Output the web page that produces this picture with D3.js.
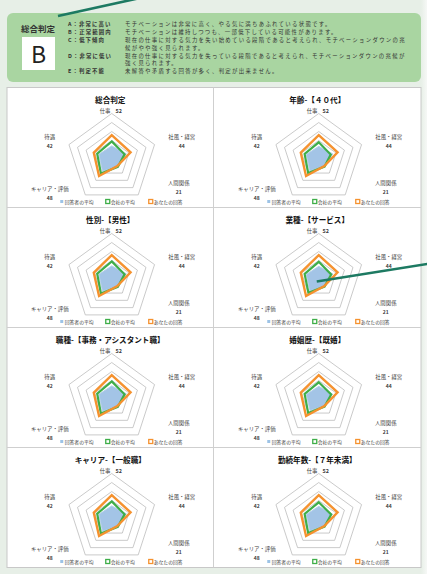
<!DOCTYPE html>
<html><head><meta charset="utf-8">
<script src="https://cdn.jsdelivr.net/npm/d3@7"></script>
<style>
html,body{margin:0;padding:0;background:#e7efe7;}
svg{display:block;}
text{font-family:"Noto Sans CJK JP","Noto Sans",sans-serif;}
</style></head>
<body>
<svg id="chart" width="427" height="574"></svg>
<script>
// ---------- data ----------
const overallGrade = "B";
const gradeCodes = ["A：非常に高い","B：正常範囲内","C：低下傾向","D：非常に低い","E：判定不能"];
const gradeDescriptions = [
  ["モチベーションは非常に高く、やる気に満ちあふれている状態です。"],
  ["モチベーションは維持しつつも、一部低下している可能性があります。"],
  ["現在の仕事に対する気力を失い始めている段階であると考えられ、モチベーションダウンの兆","候がやや強く見られます。"],
  ["現在の仕事に対する気力を失っている段階であると考えられ、モチベーションダウンの兆候が","強く見られます。"],
  ["未解答や矛盾する回答が多く、判定が出来ません。"]
];
const categories = ["仕事","社風・経営","人間関係","キャリア・評価","待遇"];
const categoryScoreLabels = ["52","44","21","48","42"];
const chartTitles = ["総合判定","年齢-【４０代】","性別-【男性】","業種-【サービス】","職種-【事務・アシスタント職】","婚姻歴-【既婚】","キャリア-【一般職】","勤続年数-【７年未満】"];
const seriesNames = ["回答者の平均","会社の平均","あなたの回答"];
const yourScores = [52,44,21,48,42];
const companyAvg = [
  [38,30,23,41,34],[36,28,22,40,33],[38,30,23,41,34],[37,29,22,39,33],
  [38,30,23,41,34],[36,29,22,40,33],[38,30,23,41,34],[36,29,22,40,33]
];
const respondentAvg = [
  [28,34,22,35,30],[27,33,21,34,29],[28,34,22,35,30],[27,33,22,34,29],
  [28,34,22,35,30],[27,32,21,33,29],[28,34,22,35,30],[27,32,21,34,29]
];
const ringTicks = [20,40,60,80,100];

// ---------- drawing ----------
const svg = d3.select("#chart");
const W = 427, H = 574;

const defs = svg.append("defs");
const g1 = defs.append("linearGradient").attr("id","glow").attr("x1","0").attr("x2","1");
g1.append("stop").attr("offset","0").attr("stop-color","#e7efe7");
g1.append("stop").attr("offset","1").attr("stop-color","#f6f8f6");
svg.append("rect").attr("width",W).attr("height",H).attr("fill","#e7efe7");
svg.append("rect").attr("x",421).attr("width",6).attr("height",H).attr("fill","url(#glow)");

// top grade box
svg.append("rect").attr("x",7).attr("y",13).attr("width",414).attr("height",69)
  .attr("rx",6).attr("fill","#a9d5a1");
svg.append("text").attr("x",38).attr("y",31.5).attr("text-anchor","middle")
  .attr("font-size",8.5).attr("font-weight","bold").attr("fill","#333").text("総合判定");
svg.append("rect").attr("x",22).attr("y",37).attr("width",33).attr("height",33).attr("fill","#fff");
svg.append("text").attr("x",38.5).attr("y",63).attr("text-anchor","middle")
  .attr("font-size",23).attr("fill","#222").attr("font-family","Liberation Sans, Arial, sans-serif").text(overallGrade);

const lineStep = 7.85;
let li = 0;
gradeCodes.forEach((code,i)=>{
  const y = 26.2 + li*lineStep;
  svg.append("text").attr("x",68).attr("y",y).attr("font-size",5.4).attr("letter-spacing",1.1)
    .attr("font-weight","bold").attr("fill","#333").text(code);
  gradeDescriptions[i].forEach((ln,j)=>{
    svg.append("text").attr("x",125).attr("y",26.2+(li+j)*lineStep).attr("font-size",5.4)
      .attr("letter-spacing",1.3).attr("fill","#333").text(ln);
  });
  li += gradeDescriptions[i].length;
});

// white panel
const panelTop = 87.5, panelBottom = 567.5, panelLeft = 7, panelRight = 421;
svg.append("rect").attr("x",panelLeft).attr("y",panelTop).attr("width",panelRight-panelLeft)
  .attr("height",panelBottom-panelTop).attr("fill","#fff").attr("stroke","#c8c8c8").attr("stroke-width",1);
const colX = [panelLeft, 213.5, panelRight];
const rowH = (panelBottom-panelTop)/4;
svg.append("line").attr("x1",colX[1]).attr("x2",colX[1]).attr("y1",panelTop).attr("y2",panelBottom)
  .attr("stroke","#cfcfcf").attr("stroke-width",1);
for(let r=1;r<4;r++){
  svg.append("line").attr("x1",panelLeft).attr("x2",panelRight)
    .attr("y1",panelTop+r*rowH).attr("y2",panelTop+r*rowH).attr("stroke","#cfcfcf").attr("stroke-width",1);
}

const rScale = d3.scaleLinear().domain([0,100]).range([0,45]);
const radarLine = d3.lineRadial().angle((d,i)=>i*2*Math.PI/categories.length).radius(d=>rScale(d)).curve(d3.curveLinearClosed);

const labelLayout = [
  {dx:-1, dy:-48},
  {dx:70, dy:-22},
  {dx:67, dy:24},
  {dx:-62, dy:30},
  {dx:-62, dy:-22}
];
const legendLayout = [-49,-3,40];
const legendColors = ["#9dc3e6","#3fae49","#f5922f"];

const centers = [];
chartTitles.forEach((title,k)=>{
  const col = k%2, row = Math.floor(k/2);
  const left = colX[col], right = colX[col+1];
  const top = panelTop + row*rowH;
  const ccx = (left+right)/2;
  const cx = ccx + 1.5, cy = top + 71;
  centers.push([cx,cy]);
  const g = svg.append("g");
  g.append("text").attr("x",ccx).attr("y",top+15).attr("text-anchor","middle")
    .attr("font-size",7.6).attr("font-weight","bold").attr("fill","#111").text(title);

  const rg = g.append("g").attr("transform",`translate(${cx},${cy})`);
  ringTicks.forEach(t=>{
    rg.append("path").attr("d",radarLine(categories.map(()=>t)))
      .attr("fill","none").attr("stroke","#b3b3b3").attr("stroke-width",0.7);
  });
  rg.append("path").attr("d",radarLine(respondentAvg[k]))
    .attr("fill","#a3c4e6").attr("stroke","#b4cfe9").attr("stroke-width",1);
  rg.append("path").attr("d",radarLine(companyAvg[k]))
    .attr("fill","none").attr("stroke","#3fae49").attr("stroke-width",2.2);
  rg.append("path").attr("d",radarLine(yourScores))
    .attr("fill","none").attr("stroke","#f5922f").attr("stroke-width",2.4);

  categories.forEach((c,i)=>{
    const L = labelLayout[i];
    if(i===0){
      const t = g.append("text").attr("x",cx+L.dx).attr("y",cy+L.dy+2).attr("text-anchor","middle")
        .attr("font-size",5.4).attr("fill","#404040");
      t.append("tspan").text(c);
      t.append("tspan").attr("dx",5).attr("font-weight","bold").text(categoryScoreLabels[i]);
    } else {
      g.append("text").attr("x",cx+L.dx).attr("y",cy+L.dy+2).attr("text-anchor","middle")
        .attr("font-size",5.4).attr("fill","#404040").text(c);
      g.append("text").attr("x",cx+L.dx).attr("y",cy+L.dy+11).attr("text-anchor","middle")
        .attr("font-size",5).attr("font-weight","bold").attr("fill","#404040").text(categoryScoreLabels[i]);
    }
  });

  const ly = top + 116;
  seriesNames.forEach((s,i)=>{
    const lx = ccx + legendLayout[i];
    if(i===0){
      g.append("rect").attr("x",lx-1).attr("y",ly-3.5).attr("width",3).attr("height",3).attr("fill",legendColors[i]);
    } else {
      g.append("rect").attr("x",lx-1.5).attr("y",ly-4).attr("width",4).attr("height",4)
        .attr("fill","#fff").attr("stroke",legendColors[i]).attr("stroke-width",1.3);
    }
    g.append("text").attr("x",lx+3.5).attr("y",ly).attr("font-size",4.8).attr("fill","#404040").text(s);
  });
});

// callout lines
svg.append("line").attr("x1",58).attr("y1",16).attr("x2",140).attr("y2",-2)
  .attr("stroke","#1d7a62").attr("stroke-width",2.6);
const c4 = centers[3];
svg.append("line").attr("x1",c4[0]-2).attr("y1",c4[1]+3).attr("x2",430).attr("y2",c4[1]-15)
  .attr("stroke","#1d7a62").attr("stroke-width",2.6);
</script>
</body></html>
